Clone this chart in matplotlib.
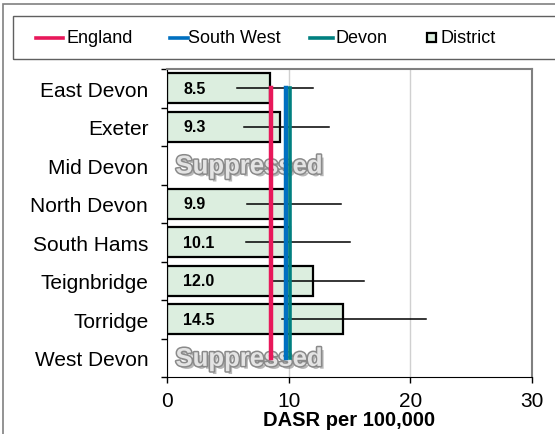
import numpy as np
import matplotlib
matplotlib.use('Agg')
import matplotlib.pyplot as plt
import matplotlib.patheffects as pe
from matplotlib.lines import Line2D
from matplotlib.patches import Rectangle

plt.rcParams['font.family'] = ['Liberation Sans', 'DejaVu Sans']

# Data
districts = ['East Devon', 'Exeter', 'Mid Devon', 'North Devon',
             'South Hams', 'Teignbridge', 'Torridge', 'West Devon']
dasr = [8.5, 9.3, None, 9.9, 10.1, 12.0, 14.5, None]
ci_low = [5.75, 6.35, None, 6.6, 6.5, 8.7, 9.45, None]
ci_high = [12.0, 13.3, None, 14.3, 15.0, 16.2, 21.3, None]
england = 8.55
south_west = 9.8
devon = 10.1

W, H = 555, 435
fig = plt.figure(figsize=(W / 100, H / 100), dpi=100)

def fx(px):
    return px / W

def fy(py):
    return 1 - py / H

# outer chart frame (extends past right/bottom edges)
fig.patches.append(Rectangle((fx(3), fy(440)), fx(570), fy(5) - fy(440),
                             transform=fig.transFigure, fill=False,
                             edgecolor='#808080', lw=1.2))

# plot area
ax = fig.add_axes([fx(167), fy(378), fx(532 - 167), fy(70) - fy(378)])
y = np.arange(len(districts))

# bars for districts with values
for i, v in enumerate(dasr):
    if v is None:
        ax.text(0.7, i + 0.03, 'Suppressed', fontsize=18.5, fontweight='bold',
                color='#e4e4e4', va='center', ha='left', zorder=3.5,
                path_effects=[pe.SimplePatchShadow(offset=(2, -2), shadow_rgbFace='#606060', alpha=0.45),
                              pe.Stroke(linewidth=2.2, foreground='#8a8a8a'),
                              pe.Normal()])
        continue
    ax.barh(i, v, height=0.78, color='#DCEEDF', edgecolor='black', lw=1.6, zorder=2)
    ax.plot([ci_low[i], ci_high[i]], [i, i], color='black', lw=1.1, zorder=3)
    ax.text(1.35, i, f'{v:.1f}', fontsize=11.5, fontweight='bold', va='center', ha='left', zorder=8)

# reference lines
ax.plot([england, england], [0, 7], color='#E8185A', lw=3.2, solid_capstyle='projecting', zorder=4)
ax.plot([south_west, south_west], [0, 7], color='#0070C0', lw=3.2, solid_capstyle='projecting', zorder=5)
ax.plot([devon, devon], [0, 7], color='#008080', lw=2.6, solid_capstyle='projecting', zorder=6)

ax.set_xlim(0, 30)
ax.set_ylim(len(districts) - 0.5, -0.5)
ax.set_xticks([0, 10, 20, 30])
ax.tick_params(axis='x', labelsize=15, length=4, width=1, direction='out', pad=6)
ax.set_yticks(y)
ax.set_yticklabels(districts)
ax.tick_params(axis='y', which='major', length=0, labelsize=15, pad=13.5)
ax.set_yticks(np.arange(-0.5, len(districts), 1), minor=True)
ax.tick_params(axis='y', which='minor', length=4, width=1, direction='out')
ax.grid(axis='x', color='#d0d0d0', lw=1, zorder=0)
ax.set_axisbelow(True)
ax.spines['top'].set_color('#808080')
ax.spines['right'].set_color('#808080')
ax.spines['top'].set_linewidth(1.5)
ax.spines['right'].set_linewidth(1.5)
ax.spines['left'].set_color('black')
ax.spines['bottom'].set_color('black')
ax.set_xlabel('DASR per 100,000', fontsize=14.5, fontweight='bold', labelpad=0)

# legend box
fig.patches.append(Rectangle((fx(13), fy(60)), fx(560), fy(17) - fy(60),
                             transform=fig.transFigure, fill=False,
                             edgecolor='#606060', lw=1))
ly = fy(38.5)
leg_items = [('England', '#E8185A', 36, 63, 67),
             ('South West', '#0070C0', 170, 188, 188),
             ('Devon', '#008080', 310, 333, 335)]
for label, col, x0, x1, xt in leg_items:
    fig.add_artist(Line2D([fx(x0), fx(x1)], [ly, ly], color=col, lw=2.6,
                          transform=fig.transFigure))
    fig.text(fx(xt), ly, label, fontsize=13, va='center', ha='left')
fig.patches.append(Rectangle((fx(427), fy(43)), fx(9), fy(34) - fy(43),
                             transform=fig.transFigure, facecolor='#DCEEDF',
                             edgecolor='black', lw=1.6))
fig.text(fx(440), ly, 'District', fontsize=13, va='center', ha='left')

fig.savefig('out.png', dpi=100)
